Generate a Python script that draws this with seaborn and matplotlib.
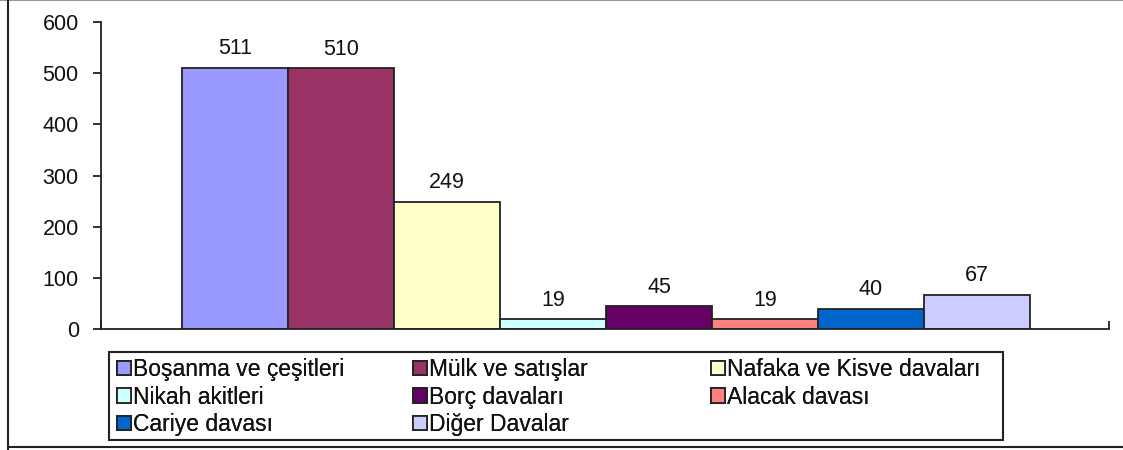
import matplotlib
matplotlib.use("Agg")
import matplotlib.pyplot as plt
import seaborn as sns
import pandas as pd
from matplotlib.lines import Line2D
from matplotlib.patches import Patch, Rectangle

# categories and counts
categories = ["Boşanma ve çeşitleri", "Mülk ve satışlar", "Nafaka ve Kisve davaları",
              "Nikah akitleri", "Borç davaları", "Alacak davası",
              "Cariye davası", "Diğer Davalar"]
counts = [511, 510, 249, 19, 45, 19, 40, 67]
colors = ["#9999FF", "#993366", "#FFFFCC", "#CCFFFF",
          "#660066", "#FF8080", "#0066CC", "#CCCCFF"]
yticks = [0, 100, 200, 300, 400, 500, 600]

df = pd.DataFrame({"kategori": categories, "sayi": counts})

sns.set_style("white")
plt.rcParams["font.family"] = ["Liberation Sans", "DejaVu Sans"]

W, H = 1123, 450
fig = plt.figure(figsize=(W / 100, H / 100), dpi=100)
ax = fig.add_axes([101 / W, 1 - 329 / H, 1008 / W, 307 / H])

sns.barplot(data=df, x="kategori", y="sayi", hue="kategori", palette=colors,
            saturation=1, width=1.0, edgecolor="#222222", linewidth=1.3,
            legend=False, ax=ax)

for c in ax.containers:
    ax.bar_label(c, padding=6, fontsize=15.5, color="#111111")

ax.set_xlim(-1.264, 8.245)
ax.set_ylim(0, 600)
ax.set_yticks(yticks)
ax.set_xticks([-1.264, 8.245])
ax.set_xticklabels(["", ""])
ax.set_xlabel("")
ax.set_ylabel("")
ax.tick_params(axis="y", direction="out", length=6, width=1.3, color="#222222",
               labelsize=15.5, labelcolor="#111111", pad=10, left=True)
ax.tick_params(axis="x", direction="in", length=6, width=1.3, color="#222222", bottom=True)
for side in ["top", "right"]:
    ax.spines[side].set_visible(False)
for side in ["left", "bottom"]:
    ax.spines[side].set_color("#222222")
    ax.spines[side].set_linewidth(1.3)

# legend: three equal columns, row-major order like the original
col_x = [117, 413, 711]
for j, x in enumerate(col_x):
    idx = list(range(j, len(categories), 3))
    handles = [Patch(facecolor=colors[i], edgecolor="#222222", linewidth=1.3) for i in idx]
    labels = [categories[i] for i in idx]
    leg = fig.legend(handles, labels, loc="upper left",
                     bbox_to_anchor=(x / W, 1 - 358 / H), frameon=False,
                     fontsize=16.5, handlelength=0.6, handleheight=0.6,
                     handletextpad=0.1, labelspacing=0.2, borderpad=0, borderaxespad=0)
    for t in leg.get_texts():
        t.set_color("#111111")
    fig.add_artist(leg)

fig.add_artist(Rectangle((109 / W, 1 - 440 / H), 894 / W, 88 / H, transform=fig.transFigure,
                         facecolor="none", edgecolor="#222222", lw=1.5))

# outer frame of the original picture
fig.add_artist(Line2D([0, 1], [0.999, 0.999], color="#999999", lw=1.5, transform=fig.transFigure))
fig.add_artist(Line2D([8 / W, 8 / W], [0, 1], color="#222222", lw=1.5, transform=fig.transFigure))
fig.add_artist(Line2D([8 / W, 1], [3 / H, 3 / H], color="#222222", lw=1.5, transform=fig.transFigure))

fig.savefig("out.png", dpi=100)
